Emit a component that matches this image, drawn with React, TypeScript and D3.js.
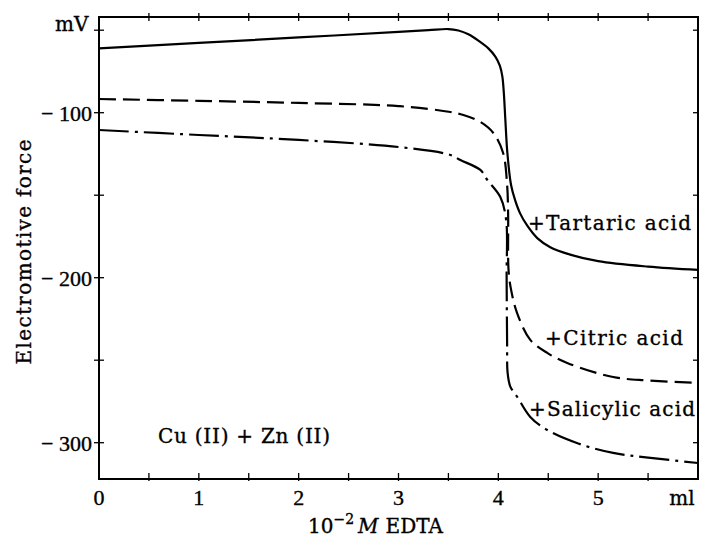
import * as d3 from 'd3';

// titration curves, x in ml of 10^-2 M EDTA, y in mV
const tartaricX = [0, 1, 2, 3, 3.3, 3.5, 3.6, 3.7, 3.8, 3.9, 3.97, 4.015, 4.04, 4.055, 4.07, 4.09, 4.128, 4.168, 4.218, 4.29, 4.39, 4.52, 4.72, 5.0, 5.5, 6.0];
const tartaricY = [-61, -57.7, -54.4, -51, -50, -49.3, -50.2, -52.5, -56.3, -61, -66, -71.5, -78, -88, -104, -124, -144, -153, -161, -168.5, -176, -181.5, -186, -190, -193.3, -195.3];

const citricX = [0, 1, 2, 3, 3.52, 3.65, 3.82, 3.95, 4.048, 4.088, 4.098, 4.102, 4.128, 4.188, 4.32, 4.49, 4.69, 5.15, 5.5, 6.0];
const citricY = [-91.7, -92.8, -94.1, -96, -99.6, -101.4, -105.6, -112.3, -124.4, -143.8, -161, -195, -207.4, -221.4, -237.7, -245.6, -251.7, -260.2, -262.3, -263.8];

const salicylicX = [0, 1, 2, 3, 3.52, 3.62, 3.82, 3.89, 4.02, 4.078, 4.083, 4.088, 4.093, 4.12, 4.19, 4.32, 4.49, 4.8, 5.15, 5.5, 6.0];
const salicylicY = [-110.5, -113.5, -116.5, -120.8, -125.6, -128.7, -134.7, -140.8, -151.1, -165, -200, -240, -257.7, -266, -272.3, -284.4, -292.3, -300.5, -306.2, -309, -312.3];

const xTickLabels = [0, 1, 2, 3, 4, 5];
const yTickLabels = [-100, -200, -300];

const W = 702;
const H = 539;
const serif = '"DejaVu Serif", serif';
const numFont = '"Liberation Serif", serif';

const x = d3.scaleLinear().domain([0, 6]).range([99, 698]);
const y = d3.scaleLinear().domain([-322, -42]).range([479, 17]);

function path(xs: number[], ys: number[]) {
  return d3
    .line<number>()
    .x((i) => x(xs[i]))
    .y((i) => y(ys[i]))
    .curve(d3.curveCatmullRom.alpha(0.5))(d3.range(xs.length)) as string;
}

const ink = { fill: '#000', stroke: '#000', strokeWidth: 0.35 };

export default function App() {
  const xMinor = d3.range(0.5, 6, 0.5);
  const yMinor = d3.range(-300, -49, 50);
  const [x0, x1] = x.range();
  const [y0, y1] = y.range();

  return (
    <svg
      width={W}
      height={H}
      style={{ position: 'absolute', left: 0, top: 0, background: '#fff' }}
    >
      {/* frame */}
      <rect x={x0} y={y1} width={x1 - x0} height={y0 - y1} fill="none" stroke="#000" strokeWidth={2} />

      {/* top + bottom ticks */}
      {xMinor.map((t) => (
        <g key={'xt' + t}>
          <line x1={x(t)} x2={x(t)} y1={y1 - 4} y2={y1 + 4} stroke="#000" strokeWidth={1.3} />
          <line x1={x(t)} x2={x(t)} y1={y0 - 6} y2={y0 + 2} stroke="#000" strokeWidth={1.3} />
        </g>
      ))}

      {/* left + right ticks */}
      {yMinor.map((t) => (
        <g key={'yt' + t}>
          <line x1={x0 - 5} x2={x0 + 5} y1={y(t)} y2={y(t)} stroke="#000" strokeWidth={1.3} />
          <line x1={x1 - 5} x2={x1} y1={y(t)} y2={y(t)} stroke="#000" strokeWidth={1.3} />
        </g>
      ))}

      {/* y tick labels */}
      {yTickLabels.map((t) => (
        <text key={'yl' + t} x={x0 - 7} y={y(t) + 8} textAnchor="end" fontFamily={numFont} fontSize={22} {...ink}>
          {'\u2212 ' + Math.abs(t)}
        </text>
      ))}
      <text x={55} y={31} fontFamily={serif} fontSize={20} {...ink}>mV</text>

      {/* x tick labels */}
      {xTickLabels.map((t) => (
        <text key={'xl' + t} x={x(t)} y={505} textAnchor="middle" fontFamily={numFont} fontSize={22} {...ink}>
          {t}
        </text>
      ))}
      <text x={682} y={505} textAnchor="middle" fontFamily={serif} fontSize={20} {...ink}>ml</text>

      {/* axis titles */}
      <text x={308} y={533} fontFamily={serif} fontSize={20} {...ink}>
        10
        <tspan dy={-9} fontSize={14}>{'\u22122'}</tspan>
        <tspan dy={9} dx={4} fontStyle="italic">M</tspan>
        <tspan dx={7}>EDTA</tspan>
      </text>
      <text
        transform="translate(31,252) rotate(-90)"
        textAnchor="middle"
        fontFamily={serif}
        fontSize={20}
        textLength={225}
        lengthAdjust="spacing"
        {...ink}
      >
        Electromotive force
      </text>

      {/* curves */}
      <path d={path(tartaricX, tartaricY)} fill="none" stroke="#000" strokeWidth={2.2} />
      <path d={path(citricX, citricY)} fill="none" stroke="#000" strokeWidth={2.2} strokeDasharray="17,7" />
      <path d={path(salicylicX, salicylicY)} fill="none" stroke="#000" strokeWidth={2.2} strokeDasharray="30,6,3,6" />

      {/* annotations */}
      <text x={158} y={443} fontFamily={serif} fontSize={20} textLength={172} lengthAdjust="spacing" {...ink}>
        Cu (II) + Zn (II)
      </text>
      <text x={528} y={230} fontFamily={serif} fontSize={20} textLength={163} lengthAdjust="spacing" {...ink}>
        +Tartaric acid
      </text>
      <text x={545} y={345} fontFamily={serif} fontSize={20} textLength={138} lengthAdjust="spacing" {...ink}>
        +Citric acid
      </text>
      <text x={529} y={416} fontFamily={serif} fontSize={20} textLength={166} lengthAdjust="spacing" {...ink}>
        +Salicylic acid
      </text>
    </svg>
  );
}
